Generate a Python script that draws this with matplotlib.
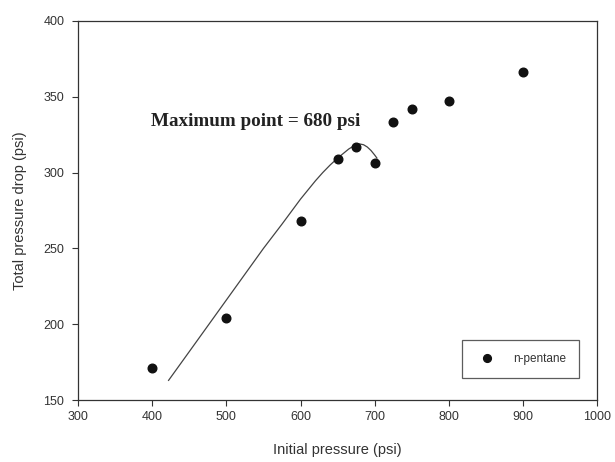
import matplotlib
matplotlib.use("Agg")
import matplotlib.pyplot as plt

# Measured data points (n-pentane)
initial_pressure = [400, 500, 600, 650, 675, 700, 725, 750, 800, 900]
pressure_drop = [171, 204, 268, 309, 317, 306, 333, 342, 347, 366.5]

# Fitted trend curve
curve_x = [422, 450, 500, 550, 575, 600, 620, 630, 640, 650, 660, 665, 670,
           675, 680, 685, 690, 695, 700, 703]
curve_y = [163, 182, 216, 250, 266, 282.5, 294.5, 300, 305, 309.5, 313.5, 315.5, 317,
           318.3, 318.8, 318.3, 316.8, 314.5, 311.5, 309.5]

x_ticks = [300, 400, 500, 600, 700, 800, 900, 1000]
y_ticks = [150, 200, 250, 300, 350, 400]

annotation = "Maximum point = 680 psi"
legend_label = "n-pentane"

plt.rcParams['font.family'] = ['Liberation Sans', 'DejaVu Sans']

fig = plt.figure(figsize=(6.15, 4.62), dpi=100)
ax = fig.add_axes([0.127, 0.134, 0.844, 0.821])

ax.plot(curve_x, curve_y, color='#444444', lw=0.9, zorder=2)
ax.plot(initial_pressure, pressure_drop, 'o', color='#111111', ms=6.2,
        ls='none', label=legend_label, zorder=3)

ax.set_xlim(300, 1000)
ax.set_ylim(150, 400)
ax.set_xticks(x_ticks)
ax.set_yticks(y_ticks)

for s in ax.spines.values():
    s.set_color('#333333')
    s.set_linewidth(0.9)

ax.tick_params(axis='both', direction='out', length=4, width=0.8,
               colors='#333333', labelsize=9, labelcolor='#333333')
ax.tick_params(axis='y', pad=6)
ax.tick_params(axis='x', pad=4)

ax.set_xlabel("Initial pressure (psi)", fontsize=10.5, color='#333333', labelpad=14)
ax.set_ylabel("Total pressure drop (psi)", fontsize=10.5, color='#333333', labelpad=12)

ax.text(398, 333.5, annotation, fontsize=13.8, fontweight='bold',
        family=['Liberation Serif', 'DejaVu Serif'], color='#222222',
        ha='left', va='center')

leg = ax.legend(loc='lower right', bbox_to_anchor=(0.965, 0.058),
                fancybox=False, frameon=True, edgecolor='#333333',
                fontsize=8.5, borderpad=1.1, handlelength=2.0,
                handletextpad=1.2, borderaxespad=0, markerscale=0.9)
leg.get_frame().set_linewidth(0.9)
for t in leg.get_texts():
    t.set_color('#333333')

fig.savefig("out.png", dpi=100)
